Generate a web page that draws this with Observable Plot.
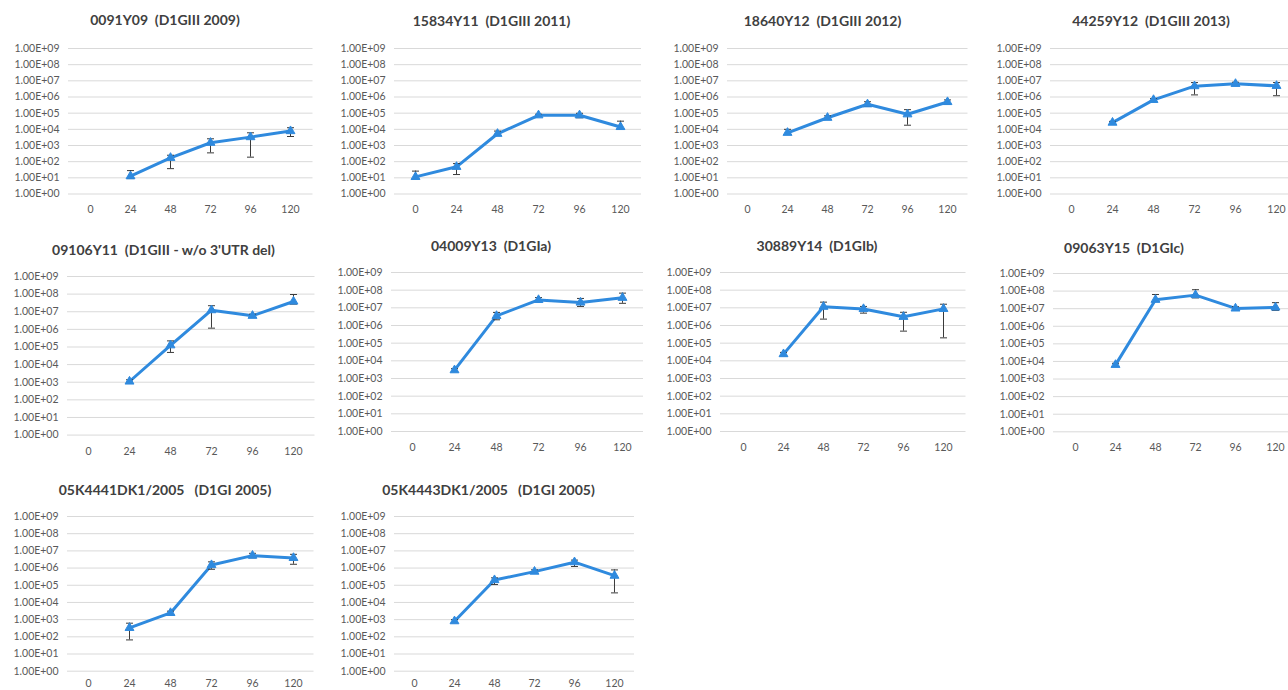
<!DOCTYPE html>
<html><head><meta charset="utf-8">
<script src="https://cdn.jsdelivr.net/npm/d3@7"></script>
<script src="https://cdn.jsdelivr.net/npm/@observablehq/plot@0.6"></script>
<style>
html,body{margin:0;padding:0;background:#fff;}
#root{position:relative;width:1288px;height:690px;overflow:hidden;font-family:Lato,"Open Sans",sans-serif;}
.panel{position:absolute;}
.panel svg{max-width:none !important;display:block;}
.title{position:absolute;font-weight:bold;font-size:14px;line-height:1;color:#404040;white-space:pre;transform:translate(-50%,-50%);}
</style></head><body><div id="root"></div>
<script>
// ---- data ----
const hours = ["0","24","48","72","96","120"];
const titles = [
  "0091Y09  (D1GIII 2009)",
  "15834Y11  (D1GIII 2011)",
  "18640Y12  (D1GIII 2012)",
  "44259Y12  (D1GIII 2013)",
  "09106Y11  (D1GIII - w/o 3'UTR del)",
  "04009Y13  (D1GIa)",
  "30889Y14  (D1GIb)",
  "09063Y15  (D1GIc)",
  "05K4441DK1/2005   (D1GI 2005)",
  "05K4443DK1/2005   (D1GI 2005)"
];
const means = [
  [null, 12.6, 173, 1480, 3300, 7800],
  [11.4, 48, 5300, 74000, 74000, 14000],
  [null, 6100, 52000, 355000, 85000, 490000],
  [null, 26000, 660000, 4.7e6, 6.5e6, 4.9e6],
  [null, 1100, 125000, 1.23e7, 5.9e6, 3.8e7],
  [null, 2950, 3.5e6, 2.8e7, 2.0e7, 3.7e7],
  [null, 24000, 1.15e7, 8.6e6, 3.1e6, 8.7e6],
  [null, 6400, 3.2e7, 5.9e7, 1.03e7, 1.17e7],
  [null, 330, 2450, 1.5e6, 5.3e6, 3.9e6],
  [null, 810, 2.0e5, 6.2e5, 2.2e6, 3.6e5]
];
const lows = [
  [null, 9, 37, 350, 190, 3600],
  [9, 16, 4200, 62000, 52000, 10000],
  [null, 4800, 40000, 260000, 18000, 355000],
  [null, 21000, 540000, 1.35e6, 5.2e6, 1.2e6],
  [null, 880, 49000, 1.17e6, 4.7e6, 2.7e7],
  [null, 2400, 2.1e6, 2.0e7, 1.2e7, 1.8e7],
  [null, 19000, 2.3e6, 5.0e6, 4.8e5, 2.0e5],
  [null, 5200, 2.5e7, 4.1e7, 8.3e6, 8.0e6],
  [null, 66, 1850, 8.5e5, 3.9e6, 1.66e6],
  [null, 650, 1.1e5, 4.9e5, 1.23e6, 3.6e4]
];
const highs = [
  [null, 28, 250, 2600, 6100, 12600],
  [26, 76, 7800, 86000, 98000, 32000],
  [null, 10000, 68000, 510000, 165000, 660000],
  [null, 31000, 800000, 7.8e6, 8.2e6, 7.8e6],
  [null, 1380, 222000, 2.2e7, 7.3e6, 9.5e7],
  [null, 3600, 5.5e6, 3.8e7, 3.4e7, 6.8e7],
  [null, 30000, 2.1e7, 1.2e7, 5.6e6, 1.6e7],
  [null, 7800, 6.4e7, 1.2e8, 1.3e7, 2.2e7],
  [null, 620, 3100, 2.3e6, 7.2e6, 6.3e6],
  [null, 1000, 2.7e5, 7.9e5, 2.9e6, 7.8e5]
];
const yTicks = [1, 1e1, 1e2, 1e3, 1e4, 1e5, 1e6, 1e7, 1e8, 1e9];

// ---- layout (plot-area boxes and title centres) ----
const boxes = [
  {l: 67.5, r: 312, t: 47.5, b: 193, tx: 165, ty: 20, tp: 12},
  {l: 394, r: 641, t: 47.5, b: 193, tx: 491.5, ty: 20.5, tp: 12},
  {l: 726.5, r: 967, t: 47.5, b: 193, tx: 822.5, ty: 20.5, tp: 12},
  {l: 1050, r: 1296, t: 47.5, b: 193, tx: 1151, ty: 20.5, tp: 12},
  {l: 66.5, r: 314, t: 275.7, b: 434.3, tx: 163.5, ty: 250, tp: 12},
  {l: 390.5, r: 642.5, t: 271.7, b: 430.7, tx: 491, ty: 246, tp: 12},
  {l: 720, r: 965.5, t: 271.7, b: 430.7, tx: 817, ty: 246, tp: 12},
  {l: 1053, r: 1296, t: 272.7, b: 431, tx: 1124, ty: 248, tp: 12},
  {l: 66.5, r: 313, t: 516, b: 670.7, tx: 165, ty: 490, tp: 8},
  {l: 393.5, r: 633.5, t: 516, b: 670.7, tx: 488.5, ty: 490, tp: 8}
];

const blue = "#2f8ade";
const capSymbol = {draw(ctx) { ctx.moveTo(-3.5, 0); ctx.lineTo(3.5, 0); }};
const fmt = d => "1.00E+" + String(Math.round(Math.log10(d))).padStart(2, "0");

const root = document.getElementById("root");
const ML = 62, MR = 6, MT = 6, MB = 26;

titles.forEach((title, i) => {
  const bx = boxes[i];
  const rows = hours.map((h, j) => ({h, m: means[i][j], lo: lows[i][j], hi: highs[i][j]}))
                    .filter(d => d.m != null);
  const w = bx.r - bx.l + ML + MR;
  const chart = Plot.plot({
    width: w,
    height: bx.b - bx.t + MT + MB,
    marginLeft: ML, marginRight: MR, marginTop: MT, marginBottom: MB,
    style: {fontFamily: "Lato, 'Open Sans', sans-serif", fontSize: "10.5px", color: "#595959", background: "transparent", overflow: "visible", maxWidth: "none"},
    x: {type: "point", domain: hours, padding: 0.5, label: null, tickSize: 0, tickPadding: bx.tp},
    y: {type: "log", domain: [1, 1e9], ticks: yTicks, tickFormat: fmt, label: null, tickSize: 0, tickPadding: 9},
    marks: [
      Plot.gridY(yTicks, {stroke: "#d9d9d9", strokeOpacity: 1, strokeWidth: 1}),
      Plot.line(rows, {x: "h", y: "m", stroke: blue, strokeWidth: 3, strokeLinejoin: "round"}),
      Plot.ruleX(rows, {x: "h", y1: "lo", y2: "hi", stroke: "#3a3a3a", strokeWidth: 1}),
      Plot.dot(rows, {x: "h", y: "hi", symbol: capSymbol, stroke: "#3a3a3a", strokeWidth: 1, r: 3}),
      Plot.dot(rows, {x: "h", y: "lo", symbol: capSymbol, stroke: "#3a3a3a", strokeWidth: 1, r: 3}),
      Plot.dot(rows, {x: "h", y: "m", symbol: "triangle", fill: blue, stroke: blue, strokeWidth: 1, r: 3.3})
    ]
  });
  const wrap = document.createElement("div");
  wrap.className = "panel";
  wrap.style.left = (bx.l - ML) + "px";
  wrap.style.top = (bx.t - MT) + "px";
  wrap.style.width = w + "px";
  wrap.appendChild(chart);
  root.appendChild(wrap);

  const t = document.createElement("div");
  t.className = "title";
  t.textContent = title;
  t.style.left = bx.tx + "px";
  t.style.top = bx.ty + "px";
  root.appendChild(t);
});
</script>
</body></html>
